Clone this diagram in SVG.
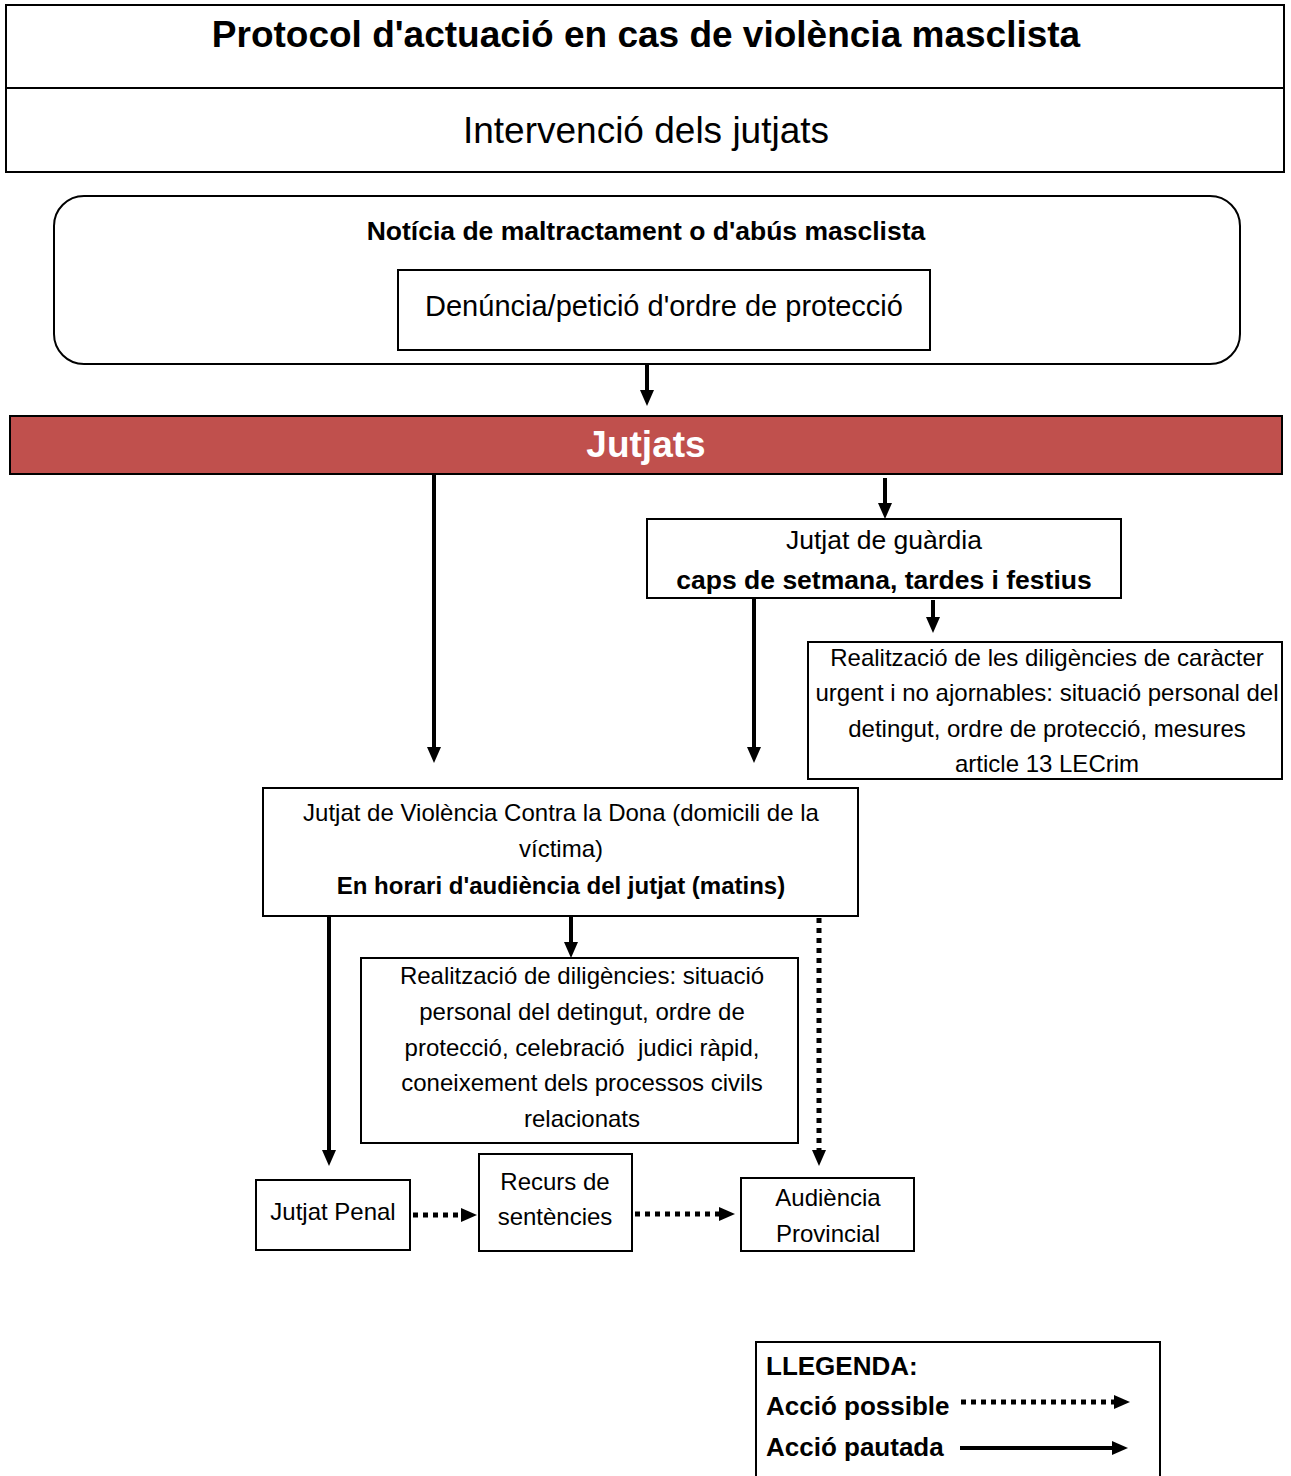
<svg xmlns="http://www.w3.org/2000/svg" width="1291" height="1476" viewBox="0 0 1291 1476">
<defs>
<style>
text{font-family:"Liberation Sans",Arial,sans-serif;fill:#000;text-anchor:middle}
.b{font-weight:bold}
.t{font-size:24px}
.box{fill:#fff;stroke:#000;stroke-width:2}
.solid{fill:none;stroke:#000;stroke-width:4}
.dot{fill:none;stroke:#000;stroke-width:5;stroke-dasharray:5 5}
</style>
<marker id="ah" viewBox="0 0 16 14" refX="0" refY="7" markerWidth="16" markerHeight="14" markerUnits="userSpaceOnUse" orient="auto">
<path d="M0,0 L16,7 L0,14 Z" fill="#000"/>
</marker>
</defs>
<rect width="1291" height="1476" fill="#fff"/>
<g id="header">
<rect class="box" x="6" y="5" width="1278" height="167"/>
<line x1="6" y1="88" x2="1284" y2="88" stroke="#000" stroke-width="2"/>
<text class="b" x="646" y="47" font-size="37">Protocol d'actuació en cas de violència masclista</text>
<text x="646" y="143" font-size="37">Intervenció dels jutjats</text>
</g>
<g id="noticia">
<rect class="box" x="54" y="196" width="1186" height="168" rx="30"/>
<text class="b" x="646" y="240" font-size="26.5">Notícia de maltractament o d'abús masclista</text>
</g>
<g id="denuncia">
<rect class="box" x="398" y="270" width="532" height="80"/>
<text x="664" y="316" font-size="29">Denúncia/petició d'ordre de protecció</text>
</g>
<g id="jutjats">
<rect x="10" y="416" width="1272" height="58" fill="#C0504D" stroke="#000" stroke-width="2"/>
<text class="b" x="646" y="457" font-size="37" style="fill:#fff">Jutjats</text>
</g>
<g id="guardia">
<rect class="box" x="647" y="519" width="474" height="79"/>
<text x="884" y="549" font-size="26.5">Jutjat de guàrdia</text>
<text class="b" x="884" y="589" font-size="26.5">caps de setmana, tardes i festius</text>
</g>
<g id="urgent">
<rect class="box" x="808" y="642" width="474" height="137"/>
<text class="t" x="1047" y="666">Realització de les diligències de caràcter</text>
<text class="t" x="1047" y="701">urgent i no ajornables: situació personal del</text>
<text class="t" x="1047" y="737">detingut, ordre de protecció, mesures</text>
<text class="t" x="1047" y="772">article 13 LECrim</text>
</g>
<g id="jvcd">
<rect class="box" x="263" y="788" width="595" height="128"/>
<text class="t" x="561" y="821">Jutjat de Violència Contra la Dona (domicili de la</text>
<text class="t" x="561" y="857">víctima)</text>
<text class="t b" x="561" y="894">En horari d'audiència del jutjat (matins)</text>
</g>
<g id="diligencies">
<rect class="box" x="361" y="958" width="437" height="185"/>
<text class="t" x="582" y="984">Realització de diligències: situació</text>
<text class="t" x="582" y="1020">personal del detingut, ordre de</text>
<text class="t" x="582" y="1056" xml:space="preserve">protecció, celebració  judici ràpid,</text>
<text class="t" x="582" y="1091">coneixement dels processos civils</text>
<text class="t" x="582" y="1127">relacionats</text>
</g>
<g id="penal">
<rect class="box" x="256" y="1180" width="154" height="70"/>
<text class="t" x="333" y="1220">Jutjat Penal</text>
</g>
<g id="recurs">
<rect class="box" x="479" y="1154" width="153" height="97"/>
<text class="t" x="555" y="1190">Recurs de</text>
<text class="t" x="555" y="1225">sentències</text>
</g>
<g id="audiencia">
<rect class="box" x="741" y="1178" width="173" height="73"/>
<text class="t" x="828" y="1206">Audiència</text>
<text class="t" x="828" y="1242">Provincial</text>
</g>
<g id="connectors">
<line class="solid" x1="647" y1="364" x2="647" y2="390" marker-end="url(#ah)"/>
<line class="solid" x1="434" y1="474" x2="434" y2="747" marker-end="url(#ah)"/>
<line class="solid" x1="885" y1="478" x2="885" y2="503" marker-end="url(#ah)"/>
<line class="solid" x1="754" y1="598" x2="754" y2="747" marker-end="url(#ah)"/>
<line class="solid" x1="933" y1="600" x2="933" y2="617" marker-end="url(#ah)"/>
<line class="solid" x1="329" y1="916" x2="329" y2="1150" marker-end="url(#ah)"/>
<line class="solid" x1="571" y1="916" x2="571" y2="942" marker-end="url(#ah)"/>
<line class="dot" x1="819" y1="918" x2="819" y2="1150" marker-end="url(#ah)"/>
<line class="dot" x1="413" y1="1215" x2="461" y2="1215" marker-end="url(#ah)"/>
<line class="dot" x1="635" y1="1214" x2="719" y2="1214" marker-end="url(#ah)"/>
</g>
<g id="legend">
<rect class="box" x="756" y="1342" width="404" height="140"/>
<text class="b" x="766" y="1375" font-size="26" style="text-anchor:start">LLEGENDA:</text>
<text class="b" x="766" y="1415" font-size="26" style="text-anchor:start">Acció possible</text>
<text class="b" x="766" y="1456" font-size="26" style="text-anchor:start">Acció pautada</text>
<line class="dot" x1="961" y1="1402" x2="1114" y2="1402" marker-end="url(#ah)"/>
<line class="solid" x1="960" y1="1448" x2="1112" y2="1448" marker-end="url(#ah)"/>
</g>
</svg>
